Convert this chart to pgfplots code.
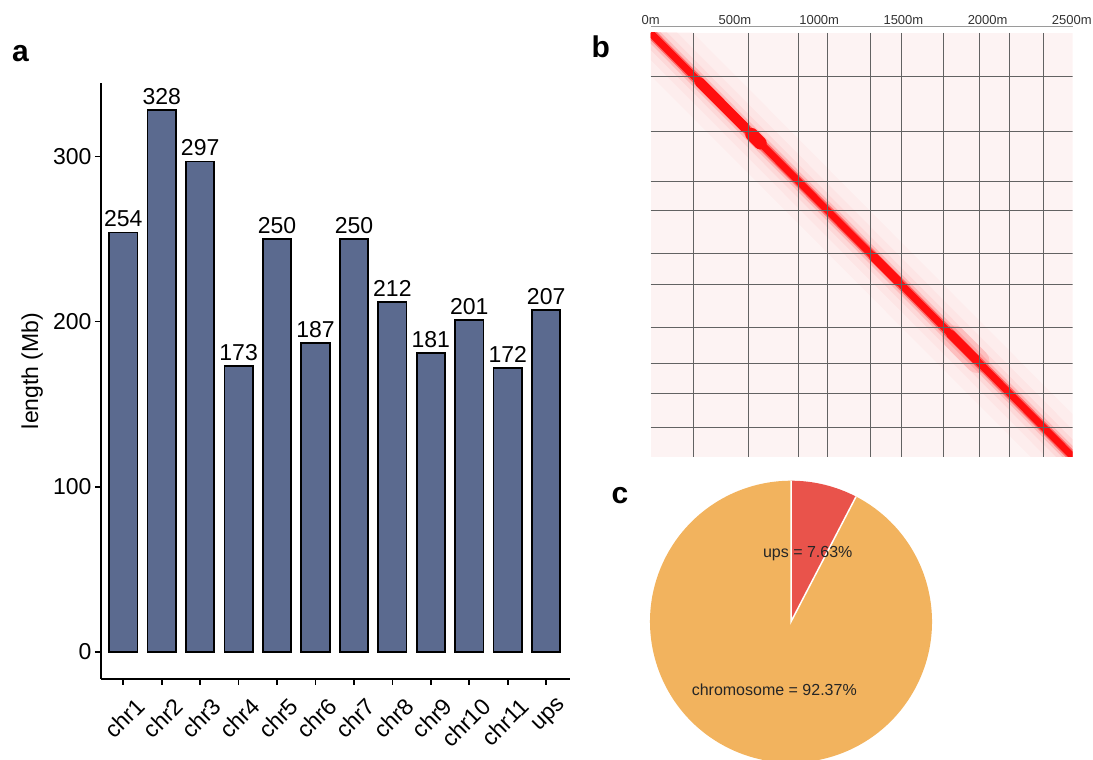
\documentclass[border=0pt]{standalone}
\usepackage{pgfplots}
\pgfplotsset{compat=1.18}
\usepackage{fontspec}
\setmainfont{Liberation Sans}

\definecolor{barfill}{HTML}{5B6A8F}
\definecolor{hicbg}{HTML}{FDF3F3}
\definecolor{hicred}{HTML}{FF0E0E}
\definecolor{gridcol}{HTML}{626262}
\definecolor{scalegray}{HTML}{9A9A9A}
\definecolor{scaletext}{HTML}{333333}
\definecolor{pieorange}{HTML}{F2B35E}
\definecolor{piered}{HTML}{E9534B}

% share of each part, in percent
\def\upsPct{7.63}
\def\chrPct{92.37}

\begin{document}
\begin{tikzpicture}[x=1pt,y=1pt]
\useasboundingbox (0,0) rectangle (1093,760);

% ---------------- a: chromosome lengths ----------------
\begin{axis}[
  at={(101pt,81pt)}, anchor=south west,
  scale only axis, width=469pt, height=596pt,
  xmin=-0.58, xmax=11.62, ymin=-16.4, ymax=344.5,
  axis x line*=bottom, axis y line*=left,
  axis line style={line width=1.6pt, -},
  xtick={0,...,11},
  xticklabels={chr1,chr2,chr3,chr4,chr5,chr6,chr7,chr8,chr9,chr10,chr11,ups},
  ytick={0,100,200,300},
  tick style={line width=1.6pt, black},
  major tick length=6pt,
  tick align=outside,
  /pgf/number format/assume math mode=true,
  ticklabel style={font=\fontsize{23}{27}\selectfont},
  xticklabel style={xshift=11pt, yshift=-11pt, rotate=45, anchor=north east, inner sep=0pt},
  ylabel={length (Mb)},
  ylabel style={font=\fontsize{23}{27}\selectfont, at={(axis description cs:-0.147,0.517)}, anchor=center},
  nodes near coords,
  nodes near coords style={font=\fontsize{23}{27}\selectfont, anchor=base, yshift=5.5pt, inner sep=0pt},
  clip=false,
]
\addplot[ybar, bar width=28.4pt, fill=barfill, draw=black, line width=1.8pt]
  coordinates {(0,254) (1,328) (2,297) (3,173) (4,250) (5,187)
               (6,250) (7,212) (8,181) (9,201) (10,172) (11,207)};
\end{axis}
\node[font=\fontsize{30}{34}\selectfont\bfseries, anchor=base west, inner sep=0pt] at (12,698.3) {a};

% ---------------- b: Hi-C contact map ----------------
\begin{axis}[
  at={(650.7pt,303.3pt)}, anchor=south west,
  scale only axis, width=422pt, height=423.7pt,
  xmin=0, xmax=2505, ymin=0, ymax=2505, y dir=reverse,
  hide axis,
]
% background contact level
\addplot[fill=hicbg, draw=none] coordinates {(0,0) (2505,0) (2505,2505) (0,2505)} -- cycle;
% diagonal signal with its decaying halo
\addplot[hicred, opacity=0.025, line width=60pt] coordinates {(0,0) (2505,2505)};
\addplot[hicred, opacity=0.035, line width=38pt] coordinates {(0,0) (2505,2505)};
\addplot[hicred, opacity=0.06, line width=24pt] coordinates {(0,0) (2505,2505)};
\addplot[hicred, opacity=0.15, line width=15pt] coordinates {(0,0) (2505,2505)};
\addplot[hicred, opacity=0.45, line width=10pt] coordinates {(0,0) (2505,2505)};
\addplot[hicred, line width=7pt] coordinates {(0,0) (2505,2505)};
% stronger local domains along the diagonal
\addplot[hicred, line width=10pt, line cap=round] coordinates {(290,290) (560,560)};
\addplot[hicred, line width=13pt, line cap=round] coordinates {(600,600) (650,650)};
\addplot[hicred, line width=9pt, line cap=round] coordinates {(1320,1320) (1470,1470)};
\addplot[hicred, line width=9pt, line cap=round] coordinates {(1780,1780) (1930,1930)};
\addplot[hicred, opacity=0.12, line width=24pt, line cap=round] coordinates {(1800,1800) (1940,1940)};
% chromosome boundaries
\pgfplotsinvokeforeach{254,582,879,1052,1302,1489,1739,1951,2132,2333}{
  \addplot[gridcol, line width=0.9pt] coordinates {(#1,0) (#1,2505)};
  \addplot[gridcol, line width=0.9pt] coordinates {(0,#1) (2505,#1)};
}
\end{axis}
% genomic position scale
\begin{axis}[
  at={(650.7pt,723.3pt)}, anchor=south west,
  scale only axis, width=422pt, height=10pt,
  xmin=0, xmax=2505, ymin=0, ymax=1,
  axis x line*=top, axis y line=none,
  x axis line style={draw=scalegray, line width=1.6pt, -},
  xtick={0,500,1000,1500,2000,2500},
  xticklabels={0m,500m,1000m,1500m,2000m,2500m},
  major tick length=0pt,
  xticklabel style={font=\fontsize{13}{15}\selectfont, text=scaletext, anchor=base, yshift=2pt},
]
\addplot[draw=none] coordinates {(0,0) (2505,1)};
\end{axis}
\node[font=\fontsize{30}{34}\selectfont\bfseries, anchor=base west, inner sep=0pt] at (591.5,702.7) {b};

% ---------------- c: assembly composition ----------------
\pgfmathsetmacro{\angSplit}{90-3.6*\upsPct}
\pgfmathsetmacro{\angUps}{90-1.8*\upsPct}
\pgfmathsetmacro{\angChr}{\angSplit-1.8*\chrPct}
\begin{axis}[
  at={(791pt,138.3pt)}, anchor=center,
  scale only axis, width=282pt, height=282pt,
  xmin=-1, xmax=1, ymin=-1, ymax=1,
  hide axis, clip=false,
]
\fill[pieorange] (axis cs:0,0) -- (axis cs:{cos(\angSplit)},{sin(\angSplit)})
  arc[start angle=\angSplit, end angle=-270, radius=141pt] -- cycle;
\fill[piered] (axis cs:0,0) -- (axis cs:0,1)
  arc[start angle=90, end angle=\angSplit, radius=141pt] -- cycle;
\draw[white, line width=1.5pt] (axis cs:0,1) -- (axis cs:0,0) -- (axis cs:{cos(\angSplit)},{sin(\angSplit)});
\node[font=\fontsize{16}{19}\selectfont, text=black!85] at (axis cs:{0.5*cos(\angUps)},{0.5*sin(\angUps)}) {ups = \upsPct\%};
\node[font=\fontsize{16}{19}\selectfont, text=black!85] at (axis cs:{0.5*cos(\angChr)},{0.5*sin(\angChr)}) {chromosome = \chrPct\%};
\end{axis}
\node[font=\fontsize{30}{34}\selectfont\bfseries, anchor=base west, inner sep=0pt] at (611.5,256) {c};

\end{tikzpicture}
\end{document}
